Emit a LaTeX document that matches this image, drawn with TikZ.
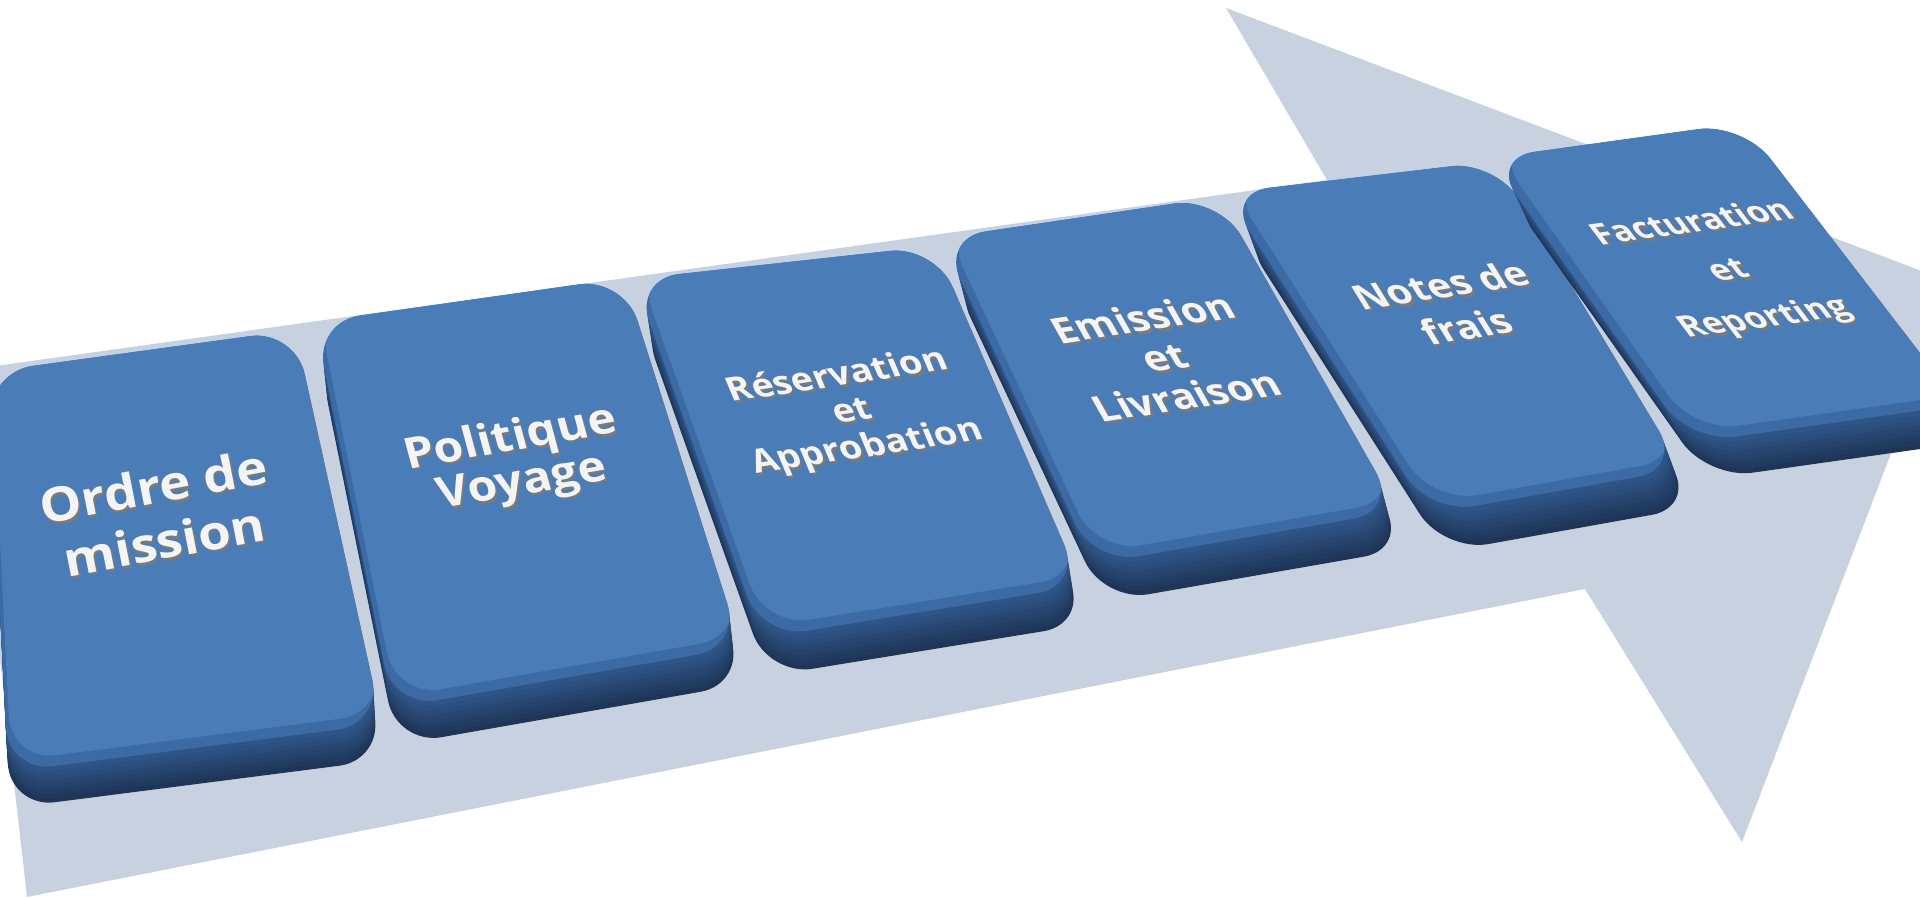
\documentclass[tikz,border=0pt]{standalone}
\usepackage{fontspec}
\setmainfont{Open Sans}
\definecolor{arrowcol}{HTML}{C8D1E0}
\definecolor{facelight}{HTML}{4A7DB8}
\definecolor{faceband}{HTML}{3C6AA4}
\definecolor{sidemid}{HTML}{2E5586}
\definecolor{sidebot}{HTML}{1E3558}
\definecolor{textcol}{HTML}{F4F4F4}
\definecolor{shadowcol}{HTML}{7A7A7A}
\newcommand\rc{4.5mm}
% text with a small grey shadow below it, inside the same line
\newcommand\sh[1]{\makebox[0pt][l]{\kern0.35pt\raisebox{-0.9pt}{\textcolor{shadowcol}{#1}}}#1}
% #1-#4 corners (TL,TR,BR,BL), #5 dx and #6 dy of the slab depth
\newcommand\slab[6]{%
  \foreach \k in {0,...,7}{%
    \pgfmathsetmacro\f{1-\k/8}%
    \pgfmathtruncatemacro\c{\k/7*100}%
    \fill[sidemid!\c!sidebot, rounded corners=\rc, shift={({#5*\f},{#6*\f})}]
      #1 -- #2 -- #3 -- #4 -- cycle;
  }
  \fill[faceband, rounded corners=\rc] #1 -- #2 -- #3 -- #4 -- cycle;
  \begin{scope}
    \clip[rounded corners=\rc] #1 -- #2 -- #3 -- #4 -- cycle;
    \fill[facelight, rounded corners=\rc, shift={(3,-11)}] #1 -- #2 -- #3 -- #4 -- cycle;
  \end{scope}
}
% #1 name, #2 position, #3 angle, #4 slant, #5 size, #6 skip, #7 text
\newcommand\cardtext[7]{%
  \node[cardlbl, rotate=#3, xslant=#4, yscale=0.9,
        font=\fontsize{#5}{#6}\selectfont\bfseries] (#1) at #2 {#7};
}
\tikzset{cardlbl/.style={align=center, inner sep=0pt, text=textcol}}
\begin{document}
\begin{tikzpicture}[x=0.01cm, y=-0.01cm]
\useasboundingbox (0,0) rectangle (1920,898);
\fill[white] (0,0) rectangle (1920,898);
\clip (0,0) rectangle (1920,898);
% big arrow
\fill[arrowcol] (27,897) -- (-33,370) -- (1327,180) -- (1226,8) -- (1956,284)
   -- (1742,842) -- (1585,589) -- cycle;
% cards
\slab{(-12,372)}{(295,330)}{(382,724)}{(8,772)}{2}{36}
\slab{(315,322)}{(624,278)}{(741,647)}{(393,708)}{4}{37}
\slab{(634,279)}{(935,246)}{(1082,586)}{(762,638)}{6}{38}
\slab{(941,238)}{(1219,197)}{(1398,511)}{(1094,564)}{10}{38}
\slab{(1225,193)}{(1496,161)}{(1682,469)}{(1430,514)}{14}{38}
\slab{(1490,158)}{(1743,123)}{(1960,405)}{(1691,443)}{17}{36}
% labels
\cardtext{t1}{(159,515)}{10.5}{-0.01}{15}{17.7}{\sh{Ordre de}\\\sh{mission}}
\cardtext{t2}{(517,463)}{10}{-0.09}{13.6}{14.2}{\sh{Politique}\\\sh{Voyage}}
\cardtext{t3}{(853,414)}{8.6}{-0.25}{10.5}{11.8}{\sh{Réservation}\\\sh{et}\\\sh{Approbation}}
\cardtext{t4}{(1165,358)}{8.6}{-0.38}{11.6}{13.2}{\sh{Emission}\\\sh{et}\\\sh{Livraison}}
\cardtext{t5}{(1454,307)}{8.8}{-0.42}{11.1}{14.1}{\sh{Notes de}\\\sh{frais}}
\cardtext{t6}{(1730,273)}{7.9}{-0.56}{9.7}{16.4}{\sh{Facturation}\\\sh{et}\\\sh{Reporting}}
\end{tikzpicture}
\end{document}
